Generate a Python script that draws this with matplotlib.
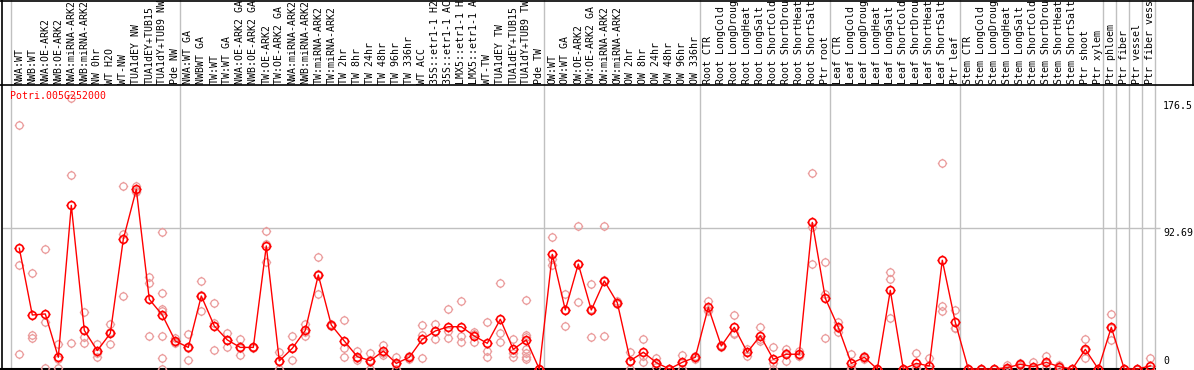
import matplotlib
matplotlib.use("Agg")
import matplotlib.pyplot as plt
from matplotlib.lines import Line2D
from matplotlib.path import Path

gene = "Potri.005G252000"

group_sizes = [13, 28, 12, 10, 10, 11, 1, 1, 1, 1]

samples = [
    "NWA:WT", "NWB:WT", "NWA:OE-ARK2", "NWB:OE-ARK2", "NWA:miRNA-ARK2", "NWB:miRNA-ARK2",
    "NW 0hr", "WT H2O", "WT-NW", "TUA1dEY NW", "TUA1dEY+TUB15", "TUA1dY+TUB9 NW", "Pde NW",
    "NWA:WT GA", "NWBWT GA", "TW:WT", "TW:WT GA", "NWA:OE-ARK2 GA", "NWB:OE-ARK2 GA",
    "TW:OE-ARK2", "TW:OE-ARK2 GA", "NWA:miRNA-ARK2", "NWB:miRNA-ARK2", "TW:miRNA-ARK2",
    "TW:miRNA-ARK2", "TW 2hr", "TW 8hr", "TW 24hr", "TW 48hr", "TW 96hr", "TW 336hr", "WT ACC",
    "35S::etr1-1 H2O", "35S::etr1-1 ACC", "LMX5::etr1-1 H2O", "LMX5::etr1-1 ACC", "WT-TW",
    "TUA1dEY TW", "TUA1dEY+TUB15", "TUA1dY+TUB9 TW", "Pde TW",
    "OW:WT", "OW:WT GA", "OW:OE-ARK2", "OW:OE-ARK2 GA", "OW:miRNA-ARK2", "OW:miRNA-ARK2",
    "OW 2hr", "OW 8hr", "OW 24hr", "OW 48hr", "OW 96hr", "OW 336hr",
    "Root CTR", "Root LongCold", "Root LongDrought", "Root LongHeat", "Root LongSalt",
    "Root ShortCold", "Root ShortDrought", "Root ShortHeat", "Root ShortSalt", "Ptr root",
    "Leaf CTR", "Leaf LongCold", "Leaf LongDrought", "Leaf LongHeat", "Leaf LongSalt",
    "Leaf ShortCold", "Leaf ShortDrought", "Leaf ShortHeat", "Leaf ShortSalt", "Ptr leaf",
    "Stem CTR", "Stem LongCold", "Stem LongDrought", "Stem LongHeat", "Stem LongSalt",
    "Stem ShortCold", "Stem ShortDrought", "Stem ShortHeat", "Stem ShortSalt", "Ptr shoot",
    "Ptr xylem",
    "Ptr phloem", "Ptr fiber", "Ptr vessel", "Ptr fiber vessel",
]

means = [
    79.4, 35.5, 36.2, 7.7, 107.6, 25.4, 12.1, 23.4, 85.3, 118.1, 45.8, 35.5, 18.4,
    14.2, 48.0, 28.3, 19.1, 14.2, 14.2, 80.9, 5.3, 13.6, 25.4, 61.8, 28.9, 18.4, 8.1,
    5.5, 11.8, 3.7, 7.7, 19.5, 25.0, 27.8, 27.8, 21.7, 16.9, 32.7, 12.9, 19.1, 0.0,
    75.4, 38.8, 69.0, 38.8, 57.9, 43.6, 5.5, 11.0, 4.2, 0.0, 4.4, 7.7,
    40.6, 15.1, 27.4, 11.0, 21.9, 6.4, 9.7, 9.7, 96.4, 46.5,
    27.4, 3.7, 7.7, 0.0, 51.7, 0.0, 3.7, 2.0, 71.5, 30.7,
    0.0, 0.0, 0.0, 0.9, 3.1, 1.5, 4.4, 1.5, 0.0, 12.9, 0.0,
    27.4, 0.0, 0.0, 2.0,
]

replicates = [
    [160.4, 68.4, 9.7], [62.9, 22.4, 20.2], [78.7, 30.7, 0.4], [16.4, 6.3, 0.4],
    [178.0, 127.3, 16.9], [37.3, 21.3, 16.9], [16.2, 10.3, 8.1], [29.4, 24.6, 16.2],
    [120.3, 88.8, 48.0], [120.5, 117.3, 116.6], [60.3, 56.3, 21.5],
    [89.9, 49.8, 39.4, 38.3, 21.5, 7.0, 0.0], [20.6, 17.7, 16.9],
    [23.0, 13.7, 5.9], [57.6, 48.5, 37.9], [43.2, 30.0, 12.5], [23.4, 19.2, 14.7],
    [19.5, 14.0, 9.2], [14.5, 14.2, 13.9], [90.7, 81.9, 70.4], [11.0, 5.0, 0.0],
    [21.5, 13.6, 5.7], [29.8, 24.5, 21.9], [73.6, 62.7, 49.1], [29.6, 28.9, 28.3],
    [32.0, 13.6, 8.1], [11.6, 7.0, 5.9], [10.5, 6.0, 0.0], [15.8, 10.4, 9.2],
    [8.1, 3.0, 0.0], [8.5, 7.7, 6.9], [28.9, 22.1, 7.0], [29.8, 25.3, 19.9],
    [39.4, 25.0, 20.2], [44.7, 21.7, 17.5], [24.5, 23.0, 17.5], [30.7, 12.0, 8.1],
    [56.3, 23.4, 17.5], [19.5, 10.3, 8.1], [45.2, 22.5, 21.3, 12.9, 10.3, 8.1, 6.4],
    [0.0, 0.0, 0.0],
    [86.8, 72.3, 68.4], [49.1, 39.0, 28.3], [94.0, 69.2, 43.8], [55.9, 39.7, 20.8],
    [94.0, 58.2, 21.5], [44.9, 43.2, 42.7], [11.0, 5.5, 0.0], [19.5, 8.7, 4.8],
    [7.0, 4.0, 1.5], [0.0, 0.0, 0.0], [9.2, 4.0, 0.0], [8.8, 7.7, 6.6],
    [44.7, 38.8, 38.3], [15.5, 15.1, 14.7], [35.5, 23.4, 23.3], [13.1, 11.0, 8.8],
    [27.4, 20.0, 18.4], [14.7, 3.7, 0.0], [13.1, 10.5, 5.5], [12.0, 8.6, 8.5],
    [128.7, 93.6, 68.8], [70.5, 49.3, 20.2],
    [30.7, 27.0, 24.5], [9.7, 1.5, 0.0], [8.8, 7.9, 6.4], [0.0, 0.0, 0.0],
    [63.6, 59.0, 33.3], [0.0, 0.0, 0.0], [10.3, 0.4, 0.4], [7.0, 0.0, 0.0],
    [135.2, 41.4, 38.1], [38.6, 26.8, 26.7],
    [0.0, 0.0, 0.0], [0.0, 0.0, 0.0], [0.0, 0.0, 0.0], [2.6, 0.0, 0.0],
    [4.2, 3.0, 2.0], [4.8, 0.0, 0.0], [8.8, 4.0, 0.4], [2.4, 2.0, 0.0],
    [0.0, 0.0, 0.0], [19.5, 12.3, 7.0], [0.0, 0.0, 0.0],
    [36.0, 27.0, 19.1], [0.0, 0.0, 0.0], [0.0, 0.0, 0.0], [7.0, 0.0, 0.0],
]

y_ticks = [176.5, 92.69, 0]

W, H = 1194, 370
TOP = 85           # height of the label strip in px
x0, dx = 19.3, 13.0  # px of the first sample, px per sample
zero_px, scale = 369, 1.521  # px of value 0, px per unit

plt.rcParams["font.family"] = "DejaVu Sans Mono"
plt.rcParams["font.size"] = 7.1

fig = plt.figure(figsize=(W / 100, H / 100), dpi=100)
ax = fig.add_axes([0, 0, 1, (H - TOP) / H])
lab = fig.add_axes([0, (H - TOP) / H, 1, TOP / H])

xlim = (-x0 / dx, (W - x0) / dx)
ax.set_xlim(xlim)
ax.set_ylim((zero_px - H) / scale, (zero_px - TOP) / scale)
lab.set_xlim(xlim)
lab.set_ylim(TOP, 0)
ax.axis("off")
lab.axis("off")


def px(x):
    return (x - x0) / dx


# circle with four short spikes, like the original markers
ring = Path.unit_circle()
spikes = Path([[0, 1], [0, 1.3], [0, -1], [0, -1.3], [1, 0], [1.3, 0], [-1, 0], [-1.3, 0]],
              [Path.MOVETO, Path.LINETO] * 4)
marker = Path.make_compound_path(ring, spikes)

grid = "#c0c0c0"
starts = [0]
for n in group_sizes:
    starts.append(starts[-1] + n)
for s in starts:
    ax.axvline(s - 0.65, color=grid, lw=1, zorder=0)
    lab.axvline(s - 0.65, color=grid, lw=1, zorder=0)

ax.hlines(92.69, px(2), px(1160), color=grid, lw=1, zorder=0)
ax.hlines(0, px(0), px(1156), color="black", lw=1.5, zorder=1)

xs = list(range(len(samples)))
rx, ry = [], []
for i, reps in enumerate(replicates):
    for v in reps:
        rx.append(i)
        ry.append(v)
ax.plot(rx, ry, ls="none", marker=marker, ms=6.8, mfc="none", mec="#ea9a9a", mew=0.9,
        zorder=2, clip_on=False)
ax.plot(xs, means, color="red", lw=1, marker=marker, ms=7.2, mfc="none", mec="red",
        mew=1.2, zorder=3, clip_on=False)

for i, name in enumerate(samples):
    lab.text(i, 84, name, rotation=90, ha="center", va="bottom", clip_on=True)

ax.text(px(10), (zero_px - 96) / scale, gene, color="red", ha="left", va="center")
ax.text(px(1163), y_ticks[0], "176.5", ha="left", va="top")
ax.text(px(1163), y_ticks[1], "92.69", ha="left", va="top")
ax.text(px(1163), 3.0, "0", ha="left", va="baseline")

# frame lines
fig.add_artist(Line2D([1.5 / W, 1.5 / W], [0, 1], color="black", lw=1.2))
fig.add_artist(Line2D([0, 1], [1 - 0.5 / H, 1 - 0.5 / H], color="black", lw=1.2))
fig.add_artist(Line2D([0, 1], [1 - TOP / H, 1 - TOP / H], color="black", lw=1.2))
fig.add_artist(Line2D([1 - 1.5 / W, 1 - 1.5 / W], [1 - TOP / H, 1], color="black", lw=1.2))

fig.savefig("out.png", dpi=100)
